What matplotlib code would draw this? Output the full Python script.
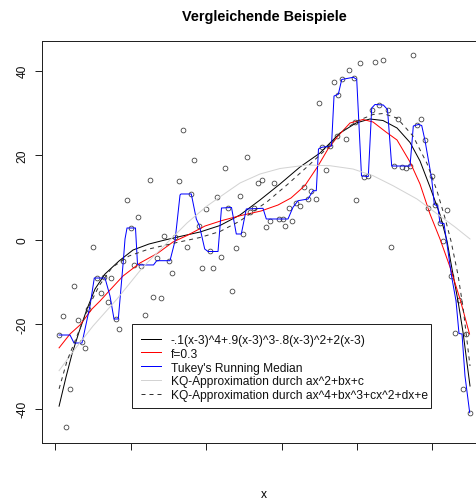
import matplotlib
matplotlib.use("Agg")
import matplotlib.pyplot as plt
from matplotlib.lines import Line2D
from matplotlib.patches import Rectangle

plt.rcParams["font.family"] = ["Liberation Sans", "DejaVu Sans"]

# ---- observations ----
obs_x = [0.98, 1.96, 2.92, 3.82, 4.83, 5.94, 7.00, 7.96, 8.75, 9.95, 11.01, 11.99,
         13.00, 13.85, 14.83, 16.10, 16.90, 17.90, 18.94, 20.00, 20.95, 21.86, 22.79,
         23.87, 25.04, 25.97, 26.98, 27.96, 28.91, 30.08, 30.98, 31.75, 32.89, 33.95,
         34.93, 35.94, 36.92, 38.17, 38.91, 40.03, 41.03, 41.83, 42.89, 43.95, 44.93,
         45.89, 46.95, 48.01, 49.12, 49.84, 50.93, 51.64, 52.79, 53.85, 54.91, 56.02,
         57.00, 58.01, 59.39, 60.32, 60.93, 61.91, 62.84, 63.85, 64.83, 65.92, 67.11,
         67.90, 69.02, 69.87, 70.82, 71.88, 72.94, 73.98, 74.59, 74.99, 76.05, 76.98,
         77.98, 79.15, 79.50, 79.89, 80.90, 81.83, 82.89, 84.08, 84.93, 85.94, 87.00,
         88.12, 89.05, 89.92, 90.95, 92.04, 93.02, 94.01, 94.93, 96.02, 97.08, 98.12,
         98.73, 99.92, 100.72, 102.04, 102.97, 103.98, 105.04, 106.02, 107.00, 108.14,
         108.86, 109.92]
obs_y = [-22.56, -18.13, -44.40, -35.41, -10.89, -19.08, -24.28, -25.75, -16.40, -1.66,
         -8.95, -12.50, -8.83, -14.63, -9.14, -18.82, -21.02, -4.97, 9.47, 2.72, -6.06,
         5.30, -6.11, -17.75, 14.20, -13.49, -4.33, -13.87, 0.80, -4.97, -7.93, 0.71,
         13.82, 25.92, -1.68, 10.77, 18.91, 3.24, -6.63, 7.27, -2.79, -6.63, 9.99, -4.05,
         16.92, 7.62, -12.07, -1.85, 10.39, 1.35, 19.46, 6.63, 7.50, 13.35, 14.18, 2.89,
         4.54, 13.35, 4.83, 4.90, 3.20, 7.43, 4.43, 8.76, 7.91, 12.40, 9.59, 11.46, 9.63,
         32.28, 21.94, 16.54, 22.25, 37.21, 24.59, 34.13, 37.92, 23.88, 40.28, 38.27,
         27.93, 9.44, 41.75, 14.79, 15.12, 30.65, 42.13, 31.93, 42.49, 30.77, -1.80, 17.49,
         28.57, 17.21, 17.02, 17.49, 43.60, 27.03, 28.45, 23.53, 7.62, 14.96, 8.17, 3.91,
         -0.38, 7.03, -8.52, -22.15, -14.20, -35.34, -22.32, -40.95]

# ---- true function ----
true_x = [1.0, 2.84, 4.43, 6.29, 8.41, 10.53, 13.18, 16.90, 20.61, 24.85, 29.09, 33.08,
          38.38, 43.69, 48.99, 54.30, 59.60, 64.91, 70.21, 75.52, 79.76, 83.47, 86.92,
          90.64, 94.09, 96.74, 99.39, 102.04, 103.90, 105.23, 106.82, 108.14, 110.0]
true_y = [-39.4, -32.50, -27.05, -21.85, -16.40, -11.67, -8.12, -5.04, -2.44, -1.02,
          -0.07, 0.76, 1.82, 3.36, 5.85, 9.40, 13.18, 17.21, 20.52, 25.25, 27.62, 28.57,
          28.21, 26.44, 23.01, 18.63, 12.47, 5.96, -0.31, -6.93, -14.51, -21.85, -34.63]

# ---- loess, f = 0.3 ----
loess_x = [1.0, 3.90, 6.55, 9.73, 11.86, 14.51, 17.96, 22.47, 27.24, 31.22, 34.93, 39.71,
           44.22, 49.26, 54.56, 59.07, 62.52, 66.23, 69.68, 72.33, 74.99, 78.17, 81.62,
           84.27, 87.71, 90.64, 94.09, 96.74, 99.39, 102.04, 104.69, 107.35, 109.87]
loess_y = [-25.6, -22.32, -20.19, -16.40, -14.51, -11.91, -8.59, -5.51, -3.15, -0.54,
           0.99, 3.24, 4.54, 5.73, 6.79, 8.21, 9.87, 12.83, 17.44, 21.47, 24.54, 27.62,
           28.45, 27.86, 25.49, 23.60, 18.39, 13.18, 6.08, 0.17, -6.46, -14.04, -22.32]

# ---- Tukey running median ----
runmed_x = [0.98, 3.90, 4.96, 7.08, 9.20, 10.34, 13.18, 14.51, 15.57, 16.71, 18.04, 18.49,
            19.02, 21.27, 21.80, 22.07, 26.05, 26.90, 30.42, 31.75, 33.08, 33.34, 36.07,
            37.40, 38.25, 39.63, 40.50, 43.16, 44.08, 46.74, 48.01, 49.34, 50.66, 55.09,
            55.97, 61.72, 63.05, 64.38, 67.03, 68.36, 69.23, 69.81, 70.66, 73.26, 73.93,
            75.07, 75.97, 79.05, 79.95, 81.22, 83.02, 83.93, 84.80, 87.00, 88.12, 89.23,
            94.09, 94.96, 96.29, 97.19, 98.06, 99.84, 100.53, 101.43, 102.04, 103.10,
            103.82, 105.09, 106.29, 107.08, 107.88, 108.67, 109.92]
runmed_y = [-22.56, -22.56, -24.45, -24.45, -15.69, -9.07, -9.07, -13.33, -18.77, -18.77,
            -5.04, 0.17, 2.77, 2.77, -5.75, -5.98, -5.98, -4.97, -4.97, -0.31, 10.58,
            10.82, 10.82, 4.90, 3.24, -2.20, -2.79, -2.79, 7.50, 7.62, 1.35, 1.35, 7.27,
            7.43, 4.90, 4.90, 7.67, 9.23, 9.63, 11.60, 11.60, 21.47, 21.87, 22.18, 34.01,
            34.41, 37.92, 38.44, 37.96, 15.08, 14.96, 31.17, 32.00, 31.88, 30.82, 17.44,
            17.44, 26.91, 27.27, 27.03, 23.48, 14.37, 8.33, 7.98, 3.95, 3.83, -0.54, -8.52,
            -14.51, -22.20, -22.32, -32.26, -40.95]

# ---- least squares, quadratic ----
quad_x = [1.0, 5.23, 10.0, 16.37, 23.26, 29.63, 34.93, 40.24, 45.54, 48.99, 54.30, 59.60,
          66.76, 72.86, 78.96, 84.27, 89.58, 95.94, 102.04, 106.02, 110.0]
quad_y = [-31.0, -25.87, -20.43, -14.04, -6.46, -0.78, 3.95, 7.98, 11.29, 13.42, 15.55,
          16.85, 17.68, 17.51, 16.73, 15.15, 12.78, 9.63, 5.61, 3.01, 0.17]

# ---- least squares, quartic ----
quart_x = [1.0, 3.10, 5.75, 8.94, 11.59, 15.04, 19.55, 24.85, 32.28, 38.38, 43.69, 48.99,
           56.42, 61.72, 67.03, 72.33, 75.52, 80.03, 84.27, 86.92, 90.64, 94.88, 98.59,
           101.25, 103.37, 104.96, 106.82, 108.14, 110.0]
quart_y = [-35.3, -28.71, -22.79, -15.69, -10.96, -6.58, -3.86, -2.20, -0.66, 0.52, 1.94,
           4.43, 9.16, 13.18, 17.44, 21.82, 25.25, 28.09, 29.63, 29.87, 28.80, 24.54,
           18.04, 11.53, 5.14, -0.31, -8.36, -15.93, -29.89]

x_ticks = [0, 20, 40, 60, 80, 100]
y_ticks = [-40, -20, 0, 20, 40]

legend_labels = ["-.1(x-3)^4+.9(x-3)^3-.8(x-3)^2+2(x-3)",
                 "f=0.3",
                 "Tukey's Running Median",
                 "KQ-Approximation durch ax^2+bx+c",
                 "KQ-Approximation durch ax^4+bx^3+cx^2+dx+e"]

W, H = 477, 502
PX = 0.72  # points per pixel at 100 dpi

fig = plt.figure(figsize=(W / 100, H / 100), dpi=100)
fig.patch.set_facecolor("white")
ax = fig.add_axes([42.3 / W, (H - 444) / H, (486.1 - 42.3) / W, (444 - 41.7) / H])

lw = 1.0 * PX
ax.plot(obs_x, obs_y, linestyle="none", marker="o", markersize=4.8 * PX,
        markerfacecolor="none", markeredgecolor="#333333", markeredgewidth=0.75 * PX)
styles = [
    dict(color="black", lw=lw),
    dict(color="red", lw=lw),
    dict(color="blue", lw=lw),
    dict(color="lightgray", lw=lw),
    dict(color="#333333", lw=lw, linestyle=(0, (4, 4))),
]
ax.plot(true_x, true_y, **styles[0])
ax.plot(loess_x, loess_y, **styles[1])
ax.plot(runmed_x, runmed_y, **styles[2])
ax.plot(quad_x, quad_y, **styles[3])
ax.plot(quart_x, quart_y, **styles[4])

ax.set_xlim(-3.45, 114.27)
ax.set_ylim(-48.12, 47.10)
ax.set_xticks(x_ticks)
ax.set_xticklabels([])
ax.set_yticks(y_ticks)
ax.set_yticklabels([str(v) for v in y_ticks], rotation=90, va="center")
ax.tick_params(direction="out", length=7.2 * PX, width=lw, color="#222222",
               labelsize=12 * PX, pad=4.8, labelcolor="#111111")
for s in ax.spines.values():
    s.set_linewidth(lw)
    s.set_color("#222222")


def fx(px):
    return px / W


def fy(py):
    return 1 - py / H


fig.text(fx(264), fy(21), "Vergleichende Beispiele", ha="center", va="baseline",
         fontsize=14.4 * PX, fontweight="bold")
fig.text(fx(264), fy(498), "x", ha="center", va="baseline", fontsize=12 * PX)

# legend box
x0, x1, y0, y1 = 131.7, 431.0, 325.0, 408.7
fig.add_artist(Rectangle((fx(x0), fy(y1)), (x1 - x0) / W, (y1 - y0) / H,
                         transform=fig.transFigure, facecolor="white",
                         edgecolor="#222222", linewidth=lw, zorder=5))
for i, (lab, st) in enumerate(zip(legend_labels, styles)):
    ry = 339.5 + 13.9 * i
    fig.add_artist(Line2D([fx(141), fx(161)], [fy(ry), fy(ry)],
                          transform=fig.transFigure, zorder=6, **st))
    fig.text(fx(170.7), fy(ry + 4.3), lab, ha="left", va="baseline",
             fontsize=12 * PX, color="#111111", zorder=6)

fig.savefig("out.png", dpi=100, facecolor="white")
